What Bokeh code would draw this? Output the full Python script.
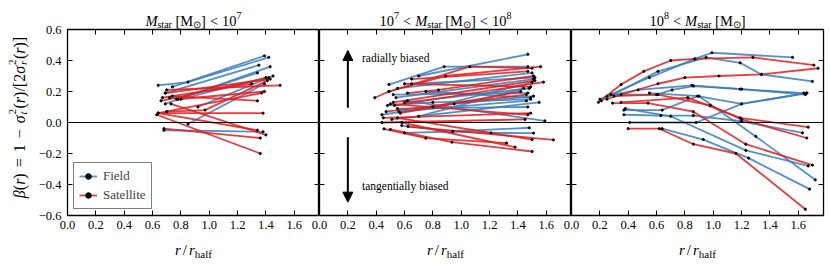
import math
from bokeh.plotting import figure
from bokeh.layouts import row, column
from bokeh.models import (Range1d, LinearAxis, FixedTicker, CustomJSTickFormatter, Span, Label,
                          Arrow, NormalHead, Legend, LegendItem, ColumnDataSource)
from bokeh.core.properties import value
from bokeh.embed import file_html
from bokeh.resources import INLINE

# ---------------- data ----------------
X_TICKS = [0.0, 0.2, 0.4, 0.6, 0.8, 1.0, 1.2, 1.4, 1.6]
Y_TICKS = [-0.6, -0.4, -0.2, 0.0, 0.2, 0.4, 0.6]
X_MAX = 1.778
Y_MIN, Y_MAX = -0.6, 0.6

# Panel 1: M_star < 1e7
p1_field_r = [[0.64, 0.85, 1.42], [0.74, 1.39], [0.69, 1.35], [0.69, 1.43], [0.92, 1.45],
              [0.77, 1.34], [0.85, 1.39], [0.68, 1.38], [0.72, 0.80, 1.40]]
p1_field_beta = [[0.24, 0.26, 0.42], [0.23, 0.43], [0.19, 0.37], [0.12, 0.36], [0.10, 0.30],
                 [0.15, 0.32], [-0.01, 0.25], [-0.05, -0.06], [0.16, 0.15, 0.29]]
p1_sat_r = [[0.64, 1.38], [0.64, 1.37], [0.64, 1.34], [0.63, 1.36], [0.69, 1.43], [0.67, 1.30],
            [0.70, 1.50], [0.74, 1.34], [0.78, 1.39], [0.73, 1.40], [0.68, 1.36],
            [0.70, 0.97, 1.41], [0.66, 1.42]]
p1_sat_beta = [[0.06, 0.06], [0.06, 0.19], [0.06, -0.05], [0.05, -0.20], [0.19, 0.28], [0.16, 0.25],
               [0.21, 0.24], [0.17, 0.14], [0.15, 0.20], [0.12, -0.08], [-0.04, -0.10],
               [0.07, 0.08, 0.27], [0.14, 0.29]]

# Panel 2: 1e7 < M_star < 1e8
p2_field_r = [[0.49, 0.88, 1.47], [0.70, 1.47], [0.55, 1.50], [0.54, 1.51], [0.60, 1.48],
              [0.44, 0.95, 1.51], [0.51, 1.55], [0.55, 1.47], [0.62, 1.59], [0.60, 0.94, 1.48],
              [0.58, 0.94, 1.21, 1.51], [0.75, 1.49], [0.52, 1.47], [0.80, 1.50], [0.56, 1.46],
              [0.65, 1.52], [0.48, 0.80, 1.49], [0.70, 1.44]]
p2_field_beta = [[0.245, 0.36, 0.36], [0.30, 0.44], [0.22, 0.32], [0.16, 0.28], [0.13, 0.22],
                 [0.05, 0.12, 0.17], [0.02, 0.13], [0.09, 0.10], [0.14, 0.01], [-0.067, -0.058, -0.034],
                 [-0.02, -0.058, -0.067, -0.069], [0.20, 0.16], [0.18, 0.19], [0.10, 0.26], [0.07, 0.14],
                 [0.25, 0.29], [0.11, 0.13, 0.15], [0.04, 0.22]]
p2_sat_r = [[0.39, 0.49, 1.06, 1.50], [0.49, 0.89, 1.56], [0.52, 1.52], [0.53, 1.58], [0.47, 1.46],
            [0.60, 1.49], [0.45, 1.49], [0.50, 1.47], [0.455, 0.75, 1.32], [0.50, 0.935, 1.50],
            [0.625, 1.65], [0.58, 1.38], [0.55, 1.50], [0.65, 1.47], [0.44, 1.45],
            [0.62, 0.84, 1.51], [0.57, 1.42]]
p2_sat_beta = [[0.16, 0.20, 0.36, 0.35], [0.20, 0.30, 0.36], [0.13, 0.27], [0.11, 0.26], [0.07, 0.18],
               [0.25, 0.23], [0.03, 0.06], [0.12, 0.05], [-0.041, -0.101, -0.133], [-0.045, -0.127, -0.187],
               [-0.026, -0.112], [0.0, -0.159], [0.03, -0.11], [0.28, 0.33], [0.0, 0.02],
               [0.19, 0.21, 0.30], [0.06, 0.20]]

# Panel 3: M_star > 1e8
p3_field_r = [[0.20, 0.55, 0.87, 0.99, 1.56], [0.21, 0.61, 0.95, 1.19, 1.34, 1.70],
              [0.28, 0.60, 0.71, 0.86, 1.19, 1.64], [0.25, 0.47, 0.85, 1.20, 1.65],
              [0.37, 0.64, 0.89, 1.20, 1.66], [0.37, 0.63, 0.86, 1.20, 1.63],
              [0.41, 0.88, 1.20, 1.66], [0.64, 0.93, 1.25, 1.68], [0.38, 0.70, 1.23, 1.67],
              [0.55, 0.90, 1.30, 1.72]]
p3_field_beta = [[0.15, 0.29, 0.41, 0.45, 0.42], [0.14, 0.33, 0.42, 0.385, 0.31, 0.265],
                 [0.18, 0.18, 0.21, 0.235, 0.215, 0.19], [0.17, 0.21, 0.24, 0.215, 0.18],
                 [0.08, 0.08, 0.17, 0.12, 0.19], [0.05, 0.045, 0.045, 0.008, -0.067],
                 [0.0, 0.0, 0.12, 0.19], [-0.04, -0.11, -0.23, -0.43], [0.09, 0.04, -0.18, -0.28],
                 [0.19, 0.17, -0.09, -0.37]]
p3_sat_r = [[0.19, 0.35, 0.51, 0.70, 0.87, 1.28, 1.71], [0.25, 0.35, 0.61, 0.80, 1.04, 1.34, 1.74],
            [0.29, 0.54, 0.86, 1.23, 1.70], [0.35, 0.82, 1.19, 1.67],
            [0.40, 0.62, 0.86, 1.16, 1.65], [0.30, 0.61, 0.98, 1.20, 1.66]]
p3_sat_beta = [[0.13, 0.245, 0.33, 0.40, 0.41, 0.42, 0.37], [0.15, 0.18, 0.25, 0.29, 0.30, 0.31, 0.35],
               [0.125, 0.125, 0.07, -0.14, -0.275], [0.13, 0.16, 0.03, -0.03],
               [-0.04, -0.04, -0.14, -0.20, -0.56], [0.17, 0.18, 0.11, 0.02, -0.10]]

SERIES_LABELS = ["Field", "Satellite"]
ARROW_X = 0.2
UP_ARROW = (0.095, 0.465)
DOWN_ARROW = (-0.095, -0.514)
NOTE_X = 0.30
NOTE_RADIAL = ("radially biased", 0.417)
NOTE_TANGENTIAL = ("tangentially biased", -0.411)

# ---------------- layout / style ----------------
FONT = "Liberation Serif"
BLUE = "#377eb8"
RED = "#e41a1c"
FRAME_W, FRAME_H = 252, 186
FRAME_LEFT, FRAME_TOP = 67, 29
BOTTOM_BORDER = 48
SHARE_BORDER = 14
RIGHT_BORDER = 4
TOTAL_W = FRAME_LEFT + 3 * FRAME_W + RIGHT_BORDER
TOTAL_H = FRAME_TOP + FRAME_H + BOTTOM_BORDER

EM = {' ': 0.25, '[': 0.333, ']': 0.333, '(': 0.333, ')': 0.333, '/': 0.278, '<': 0.564,
      '=': 0.564, '\u2212': 0.564, 'M': 0.889, 's': 0.389, 't': 0.278, 'a': 0.444, 'r': 0.333,
      'h': 0.5, 'l': 0.278, 'f': 0.333, '\u2299': 0.8, '\u03b2': 0.5, '\u03c3': 0.55}
EM_IT = {'M': 0.833, 'r': 0.389, 't': 0.278, '\u03b2': 0.5, '\u03c3': 0.55}


def em_width(s, italic):
    return sum((EM_IT[ch] if italic and ch in EM_IT else EM.get(ch, 0.5)) for ch in s)


def gap(px):
    return ("", 0, False, 0, px)


T, S = 14.5, 10
MSTAR = [("M", T, True, 0, None), ("star", S, False, -3, None), gap(3.5),
         ("[M", T, False, 0, None), ("\u2299", S, False, -3, None), ("]", T, False, 0, None)]
LT = [gap(4), ("<", T, False, 0, None), gap(4)]
TITLES = [
    MSTAR + LT + [("10", T, False, 0, None), ("7", S, False, 6, None)],
    [("10", T, False, 0, None), ("7", S, False, 6, None)] + LT + MSTAR + LT +
    [("10", T, False, 0, None), ("8", S, False, 6, None)],
    [("10", T, False, 0, None), ("8", S, False, 6, None)] + LT + MSTAR,
]
XLABEL = [("r", 15, True, 0, None), gap(2), ("/", 15, False, 0, None), gap(2),
          ("r", 15, True, 0, None), ("half", 11, False, -3.5, None)]
Y1, Y2 = 16, 11
YLABEL = [("\u03b2", Y1, True, 0, None), ("(", Y1, False, 0, None), ("r", Y1, True, 0, None),
          (")", Y1, False, 0, None), gap(6), ("=", Y1, False, 0, None), gap(6),
          ("1", Y1, False, 0, None), gap(6), ("\u2212", Y1, False, 0, None), gap(6),
          ("\u03c3", Y1, True, 0, None), ("2", Y2, False, 6.5, 0), ("t", Y2, True, -4, 6),
          ("(", Y1, False, 0, None), ("r", Y1, True, 0, None), (")", Y1, False, 0, None),
          ("/", Y1, False, 0, None), ("[", Y1, False, 0, None), ("2", Y1, False, 0, None),
          ("\u03c3", Y1, True, 0, None), ("2", Y2, False, 6.5, 0), ("r", Y2, True, -4, 6),
          ("(", Y1, False, 0, None), ("r", Y1, True, 0, None), (")", Y1, False, 0, None),
          ("]", Y1, False, 0, None)]

decor_rows = dict(x=[], y=[], text=[], size=[], style=[], angle=[])


def rich_text(pieces, cx, cy, vertical=False):
    """Lay out pieces centred on (cx, cy) = (centre, baseline) in page pixels (y down)."""
    advs = [a if a is not None else em_width(t, it) * sz for (t, sz, it, dy, a) in pieces]
    pos = -sum(advs) / 2.0
    for (t, sz, it, dy, a), adv in zip(pieces, advs):
        if t:
            if vertical:
                decor_rows["x"].append(cx - dy)
                decor_rows["y"].append(cy - pos)
                decor_rows["angle"].append(math.pi / 2)
            else:
                decor_rows["x"].append(cx + pos)
                decor_rows["y"].append(cy - dy)
                decor_rows["angle"].append(0.0)
            decor_rows["text"].append(t)
            decor_rows["size"].append(f"{sz}px")
            decor_rows["style"].append("italic" if it else "normal")
        pos += adv


def add_axis(p, side, kind):
    ticks = X_TICKS if side in ("below", "above") else Y_TICKS
    if kind == "x":
        code = "return tick.toFixed(1);"
    elif kind == "y":
        code = "return (tick < -1e-9 ? '\u2212' : '') + Math.abs(tick).toFixed(1);"
    else:
        code = "return '';"
    ax = LinearAxis(ticker=FixedTicker(ticks=ticks), formatter=CustomJSTickFormatter(code=code),
                    major_tick_in=5, major_tick_out=0, minor_tick_in=0, minor_tick_out=0,
                    axis_line_color=None, major_tick_line_color="black", major_tick_line_width=1,
                    major_label_text_font=FONT, major_label_text_font_size="12.5px",
                    major_label_text_color="black",
                    major_label_standoff=(6 if kind == "y" else 5) if kind else 0)
    p.add_layout(ax, side)


def add_group(p, rs, bs, color):
    src = ColumnDataSource(dict(xs=rs, ys=bs))
    return p.multi_line("xs", "ys", source=src, line_color=color, line_width=1.8, line_alpha=0.85)


def add_dots(p, rs, bs):
    px = [v for seg in rs for v in seg]
    py = [v for seg in bs for v in seg]
    return p.scatter(px, py, size=2.2, marker="circle", fill_color="black", line_color="black")


def make_panel(idx, field_r, field_b, sat_r, sat_b):
    p = figure(frame_width=FRAME_W, frame_height=FRAME_H, x_range=Range1d(0, X_MAX),
               y_range=Range1d(Y_MIN, Y_MAX), x_axis_type=None, y_axis_type=None,
               output_backend="svg", toolbar_location=None,
               min_border_left=FRAME_LEFT if idx == 0 else SHARE_BORDER,
               min_border_right=0 if idx < 2 else RIGHT_BORDER,
               min_border_top=FRAME_TOP, min_border_bottom=BOTTOM_BORDER)
    if idx > 0:
        p.margin = (0, 0, 0, -SHARE_BORDER)
    p.border_fill_alpha = 0
    p.background_fill_color = "white"
    p.outline_line_color = "black"
    p.outline_line_width = 1.3
    add_axis(p, "below", "x")
    add_axis(p, "above", None)
    add_axis(p, "left", "y" if idx == 0 else None)
    add_axis(p, "right", None)
    p.add_layout(Span(location=0, dimension="width", line_color="black", line_width=1.2))
    fl = add_group(p, field_r, field_b, BLUE)
    sl = add_group(p, sat_r, sat_b, RED)
    fd = add_dots(p, field_r, field_b)
    sd = add_dots(p, sat_r, sat_b)
    cx = FRAME_LEFT + FRAME_W * (idx + 0.5)
    rich_text(TITLES[idx], cx, FRAME_TOP - 8.5)
    rich_text(XLABEL, cx, FRAME_TOP + FRAME_H + 34.5)
    return p, fl, sl, fd, sd


p1, fl1, sl1, fd1, sd1 = make_panel(0, p1_field_r, p1_field_beta, p1_sat_r, p1_sat_beta)
p2, *_ = make_panel(1, p2_field_r, p2_field_beta, p2_sat_r, p2_sat_beta)
p3, *_ = make_panel(2, p3_field_r, p3_field_beta, p3_sat_r, p3_sat_beta)

rich_text(YLABEL, 18.5, FRAME_TOP + FRAME_H / 2 - 5, vertical=True)

legend = Legend(items=[LegendItem(label=SERIES_LABELS[0], renderers=[fl1, fd1]),
                       LegendItem(label=SERIES_LABELS[1], renderers=[sl1, sd1])],
                location="bottom_left", margin=6, padding=5, spacing=3,
                glyph_width=18, glyph_height=14, label_height=16, label_standoff=6,
                label_text_font=FONT, label_text_font_size="13px", label_text_baseline="middle",
                border_line_color="black", border_line_width=1.5, background_fill_alpha=1)
p1.add_layout(legend, "center")

for (y0, y1) in (UP_ARROW, DOWN_ARROW):
    p2.add_layout(Arrow(end=NormalHead(size=10, fill_color="black", line_color="black"),
                        x_start=ARROW_X, y_start=y0, x_end=ARROW_X, y_end=y1,
                        line_width=2, line_color="black"))
for txt, yy in (NOTE_RADIAL, NOTE_TANGENTIAL):
    p2.add_layout(Label(x=NOTE_X, y=yy, text=txt, text_font=FONT, text_font_size="11.5px",
                        text_baseline="middle", text_align="left", text_color="black"))

# Transparent overlay carrying titles and axis labels (page pixel space, y down)
decor = figure(frame_width=TOTAL_W, frame_height=TOTAL_H, x_range=Range1d(0, TOTAL_W),
               y_range=Range1d(TOTAL_H, 0), x_axis_type=None, y_axis_type=None,
               output_backend="svg", toolbar_location=None, min_border=0)
decor.border_fill_alpha = 0
decor.background_fill_alpha = 0
decor.outline_line_color = None
decor.margin = (-TOTAL_H, 0, 0, 0)
decor.text(x="x", y="y", text="text", source=ColumnDataSource(decor_rows),
           text_font=value(FONT), text_font_size="size", text_font_style="style", angle="angle",
           text_align="left", text_baseline="alphabetic", text_color="black")

layout = column(row(p1, p2, p3), decor)
open("out.html", "w").write(file_html(layout, INLINE))
